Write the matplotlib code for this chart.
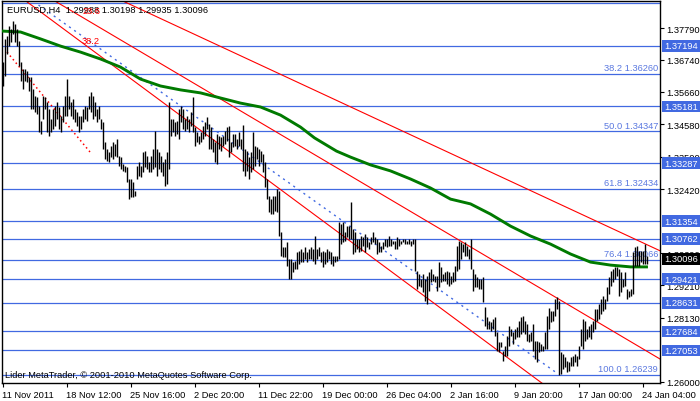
import matplotlib
matplotlib.use("Agg")
import matplotlib.pyplot as plt
from matplotlib.patches import Rectangle
from matplotlib.transforms import blended_transform_factory

# EURUSD H4 bars (high / low), one value per bar
bar_high = [
    1.3666, 1.3743, 1.3753, 1.3786, 1.3776, 1.3803, 1.3793, 1.3776, 1.3736, 1.3666,
    1.3643, 1.3643, 1.3636, 1.3616, 1.3616, 1.3576, 1.3553, 1.3549, 1.3519, 1.3469,
    1.3553, 1.3549, 1.3533, 1.3509, 1.3476, 1.3509, 1.3519, 1.3533, 1.3516, 1.3486,
    1.3519, 1.3553, 1.3609, 1.3553, 1.3533, 1.3543, 1.3509, 1.3499, 1.3486, 1.3486,
    1.3509, 1.3519, 1.3516, 1.3553, 1.3566, 1.3553, 1.3533, 1.3509, 1.3519, 1.3476,
    1.3466, 1.3399, 1.3376, 1.3366, 1.3386, 1.3399, 1.3393, 1.3409, 1.3353, 1.3349,
    1.3326, 1.3319, 1.3316, 1.3276, 1.3276, 1.3266, 1.3236, 1.3319, 1.3333, 1.3319,
    1.3366, 1.3369, 1.3353, 1.3333, 1.3353, 1.3376, 1.3436, 1.3376, 1.3366, 1.3353,
    1.3333, 1.3343, 1.3366, 1.3533, 1.3476, 1.3476, 1.3466, 1.3469, 1.3509, 1.3519,
    1.3509, 1.3476, 1.3486, 1.3476, 1.3499, 1.3549, 1.3449, 1.3433, 1.3419, 1.3433,
    1.3453, 1.3466, 1.3483, 1.3459, 1.3449, 1.3409, 1.3399, 1.3426, 1.3419, 1.3416,
    1.3419, 1.3436, 1.3449, 1.3453, 1.3399, 1.3426, 1.3426, 1.3409, 1.3433, 1.3409,
    1.3456, 1.3376, 1.3369, 1.3349, 1.3366, 1.3433, 1.3386, 1.3383, 1.3376, 1.3369,
    1.3359, 1.3333, 1.3276, 1.3219, 1.3209, 1.3219, 1.3219, 1.3243, 1.3236, 1.3099,
    1.3049, 1.3049, 1.3066, 1.3009, 1.3009, 1.2999, 1.3003, 1.3033, 1.3036, 1.3043,
    1.3033, 1.3049, 1.3033, 1.3043, 1.3049, 1.3043, 1.3086, 1.3043, 1.3049, 1.3033,
    1.3036, 1.3033, 1.3043, 1.3036, 1.3033, 1.3019, 1.3019, 1.3019, 1.3133, 1.3126,
    1.3133, 1.3099, 1.3119, 1.3119, 1.3199, 1.3109, 1.3099, 1.3076, 1.3076, 1.3086,
    1.3083, 1.3093, 1.3083, 1.3066, 1.3083, 1.3099, 1.3083, 1.3076, 1.3066, 1.3053,
    1.3066, 1.3076, 1.3076, 1.3086, 1.3076, 1.3069, 1.3069, 1.3083, 1.3076, 1.3069,
    1.3076, 1.3076, 1.3069, 1.3076, 1.3069, 1.3076, 1.3076, 1.2969, 1.2959, 1.2943,
    1.2959, 1.2943, 1.2953, 1.2966, 1.2976, 1.2959, 1.2953, 1.2953, 1.2999, 1.2983,
    1.2959, 1.2966, 1.2969, 1.2966, 1.2953, 1.2966, 1.2986, 1.3053, 1.3069, 1.3066,
    1.3059, 1.3066, 1.3053, 1.3043, 1.3076, 1.2976, 1.2959, 1.2949, 1.2943, 1.2943,
    1.2949, 1.2849, 1.2816, 1.2803, 1.2799, 1.2809, 1.2816, 1.2766, 1.2733, 1.2733,
    1.2703, 1.2719, 1.2753, 1.2786, 1.2776, 1.2766, 1.2776, 1.2783, 1.2803, 1.2816,
    1.2819, 1.2803, 1.2793, 1.2759, 1.2766, 1.2793, 1.2736, 1.2736, 1.2733, 1.2726,
    1.2719, 1.2766, 1.2819, 1.2846, 1.2836, 1.2836, 1.2876, 1.2883, 1.2869, 1.2699,
    1.2693, 1.2683, 1.2669, 1.2666, 1.2683, 1.2686, 1.2693, 1.2686, 1.2719, 1.2776,
    1.2809, 1.2803, 1.2776, 1.2786, 1.2793, 1.2803, 1.2843, 1.2843, 1.2859, 1.2876,
    1.2886, 1.2876, 1.2916, 1.2949, 1.2969, 1.2976, 1.2983, 1.2983, 1.2976, 1.2966,
    1.2943, 1.2966, 1.2909, 1.2903, 1.2909, 1.3033, 1.3049, 1.3053, 1.3036, 1.3036,
    1.3036, 1.3059, 1.3020,
]
bar_low = [
    1.3586, 1.3619, 1.3693, 1.3719, 1.3733, 1.3759, 1.3733, 1.3719, 1.3653, 1.3603,
    1.3576, 1.3603, 1.3599, 1.3569, 1.3509, 1.3509, 1.3499, 1.3493, 1.3433, 1.3426,
    1.3476, 1.3509, 1.3433, 1.3419, 1.3433, 1.3443, 1.3453, 1.3476, 1.3443, 1.3433,
    1.3466, 1.3486, 1.3486, 1.3509, 1.3486, 1.3476, 1.3466, 1.3453, 1.3433, 1.3443,
    1.3466, 1.3476, 1.3469, 1.3509, 1.3499, 1.3476, 1.3486, 1.3466, 1.3476, 1.3443,
    1.3376, 1.3343, 1.3336, 1.3333, 1.3349, 1.3343, 1.3353, 1.3349, 1.3319, 1.3309,
    1.3303, 1.3299, 1.3266, 1.3209, 1.3216, 1.3216, 1.3219, 1.3276, 1.3286, 1.3283,
    1.3299, 1.3316, 1.3309, 1.3299, 1.3299, 1.3309, 1.3316, 1.3286, 1.3309, 1.3299,
    1.3286, 1.3253, 1.3259, 1.3309, 1.3419, 1.3433, 1.3419, 1.3426, 1.3409, 1.3466,
    1.3443, 1.3436, 1.3443, 1.3433, 1.3453, 1.3433, 1.3386, 1.3399, 1.3393, 1.3399,
    1.3409, 1.3419, 1.3443, 1.3376, 1.3376, 1.3366, 1.3333, 1.3326, 1.3376, 1.3369,
    1.3386, 1.3393, 1.3403, 1.3349, 1.3366, 1.3383, 1.3386, 1.3376, 1.3386, 1.3376,
    1.3303, 1.3286, 1.3303, 1.3276, 1.3299, 1.3309, 1.3319, 1.3343, 1.3319, 1.3333,
    1.3299, 1.3249, 1.3209, 1.3166, 1.3159, 1.3159, 1.3169, 1.3166, 1.3086, 1.3019,
    1.3016, 1.3016, 1.2986, 1.2943, 1.2943, 1.2966, 1.2976, 1.2976, 1.2993, 1.2999,
    1.2999, 1.3009, 1.2999, 1.3009, 1.3009, 1.3003, 1.2993, 1.3009, 1.3019, 1.2999,
    1.2983, 1.2993, 1.2999, 1.3009, 1.2993, 1.2986, 1.2999, 1.3003, 1.3009, 1.3059,
    1.3066, 1.3069, 1.3083, 1.3076, 1.3076, 1.3026, 1.3033, 1.3043, 1.3033, 1.3036,
    1.3053, 1.3033, 1.3049, 1.3043, 1.3059, 1.3066, 1.3059, 1.3026, 1.3033, 1.3033,
    1.3043, 1.3053, 1.3049, 1.3053, 1.3053, 1.3059, 1.3043, 1.3043, 1.3053, 1.3059,
    1.3066, 1.3059, 1.3059, 1.3059, 1.3053, 1.3059, 1.2969, 1.2909, 1.2919, 1.2916,
    1.2899, 1.2869, 1.2859, 1.2903, 1.2933, 1.2936, 1.2933, 1.2903, 1.2916, 1.2933,
    1.2936, 1.2936, 1.2926, 1.2919, 1.2926, 1.2933, 1.2936, 1.2969, 1.2976, 1.3009,
    1.3033, 1.3019, 1.3019, 1.3009, 1.2976, 1.2903, 1.2916, 1.2916, 1.2909, 1.2909,
    1.2866, 1.2786, 1.2776, 1.2776, 1.2769, 1.2776, 1.2753, 1.2703, 1.2699, 1.2716,
    1.2669, 1.2686, 1.2686, 1.2719, 1.2753, 1.2726, 1.2743, 1.2749, 1.2749, 1.2759,
    1.2766, 1.2759, 1.2736, 1.2733, 1.2736, 1.2703, 1.2676, 1.2666, 1.2699, 1.2703,
    1.2703, 1.2709, 1.2709, 1.2776, 1.2799, 1.2803, 1.2819, 1.2843, 1.2624, 1.2626,
    1.2643, 1.2649, 1.2633, 1.2636, 1.2653, 1.2653, 1.2666, 1.2653, 1.2676, 1.2719,
    1.2709, 1.2736, 1.2743, 1.2749, 1.2743, 1.2766, 1.2776, 1.2803, 1.2809, 1.2826,
    1.2836, 1.2843, 1.2869, 1.2893, 1.2919, 1.2933, 1.2943, 1.2953, 1.2886, 1.2899,
    1.2916, 1.2919, 1.2876, 1.2883, 1.2886, 1.2893, 1.2986, 1.2986, 1.2986, 1.2999,
    1.2993, 1.2993, 1.2994,
]

# moving average, sampled along the green line
ma_bar = [0, 9, 19, 29, 39, 49, 59, 69, 79, 89, 99, 109, 119, 129, 139, 149, 156,
          167, 174, 184, 194, 204, 214, 224, 234, 244, 254, 264, 274, 284, 294, 304,
          314, 322]
ma_value = [1.3769, 1.3766, 1.3743, 1.3719, 1.3699, 1.3676, 1.3649, 1.3609, 1.3586,
            1.3573, 1.3563, 1.3546, 1.3529, 1.3516, 1.3489, 1.3449, 1.3413, 1.3369,
            1.3349, 1.3323, 1.3303, 1.3276, 1.3246, 1.3209, 1.3193, 1.3159, 1.3119,
            1.3086, 1.3059, 1.3026, 1.2999, 1.2989, 1.2983, 1.2983]

date_ticks = [0, 32, 64, 96, 128, 160, 192, 224, 256, 288, 320]
date_labels = ["11 Nov 2011", "18 Nov 12:00", "25 Nov 16:00", "2 Dec 20:00",
               "11 Dec 22:00", "19 Dec 00:00", "26 Dec 04:00", "2 Jan 16:00",
               "9 Jan 20:00", "17 Jan 00:00", "24 Jan 04:00"]

price_ticks = [1.37790, 1.36740, 1.35660, 1.34580, 1.33500, 1.32420, 1.30290,
               1.29210, 1.28130, 1.26000]

# horizontal lines (user levels), tagged on the price scale
level_prices = [1.37194, 1.35181, 1.33287, 1.31354, 1.30762, 1.29421, 1.28631,
                1.27684, 1.27053]
# fibonacci retracement levels (23.6 label sits above the chart, not shown)
fib_names = ["23.6", "38.2", "50.0", "61.8", "76.4", "100.0"]
fib_prices = [1.38628, 1.36260, 1.34347, 1.32434, 1.30066, 1.26239]
last_price = 1.30096

# trend lines: (bar, price) end points
trend_lines = [
    ((58, 1.3876), (329, 1.3036)),
    ((26.25, 1.3869), (328.75, 1.2676)),
    ((11.75, 1.3869), (270.25, 1.2593)),
]
fib_diag = ((18, 1.3856), (277, 1.2630))
fan_line = ((2.25, 1.3699), (43.75, 1.3366))

BLUE = "#4169E1"
W, H = 700, 402
plt.rcParams["font.family"] = ["Liberation Sans", "DejaVu Sans"]
FS = 6.7

fig = plt.figure(figsize=(W / 100, H / 100), dpi=100)
ax = fig.add_axes([2 / W, 18 / H, 658 / W, 382 / H])
ax.set_xlim(-0.25, 328.75)
ax.set_ylim(1.2596, 1.38693)

for p in level_prices + fib_prices:
    ax.axhline(p, color=BLUE, lw=0.9, zorder=1)

for (x0, y0), (x1, y1) in trend_lines:
    ax.plot([x0, x1], [y0, y1], color="red", lw=0.8, zorder=2)
ax.plot([fan_line[0][0], fan_line[1][0]], [fan_line[0][1], fan_line[1][1]],
        color="red", lw=1.1, ls=(0, (1, 2)), zorder=2)
ax.plot([fib_diag[0][0], fib_diag[1][0]], [fib_diag[0][1], fib_diag[1][1]],
        color=BLUE, lw=1.0, ls=(0, (1.5, 3)), zorder=2)

ax.plot(ma_bar, ma_value, color="#007A00", lw=2.1, zorder=3)

idx = list(range(len(bar_high)))
ax.vlines(idx, bar_low, bar_high, colors="black", lw=1.0, zorder=4)

# fib labels above their lines
tr = blended_transform_factory(ax.transAxes, ax.transData)
for name, p in zip(fib_names[1:], fib_prices[1:]):
    ax.text(0.997, p + 0.0006, "%s %.5f" % (name, p), transform=tr, ha="right",
            va="bottom", fontsize=FS, color="#5A78E0", zorder=3)

# axes, ticks
for s in ax.spines.values():
    s.set_color("black")
    s.set_linewidth(1.0)
ax.yaxis.tick_right()
ax.set_yticks(price_ticks)
ax.set_yticklabels(["%.5f" % p for p in price_ticks])
ax.set_xticks(date_ticks)
ax.set_xticklabels(date_labels)
ax.tick_params(axis="both", length=3, width=0.8, labelsize=FS, colors="black")
ax.tick_params(axis="y", pad=1.5)
ax.tick_params(axis="x", pad=2)
for lab in ax.get_xticklabels():
    lab.set_horizontalalignment("left")

# price tags on the right
for p in level_prices + [last_price]:
    fc = "black" if p == last_price else BLUE
    ax.add_patch(Rectangle((1.003, p - 0.0019), 0.06, 0.0038, transform=tr,
                           facecolor=fc, edgecolor="none", clip_on=False, zorder=6))
    ax.text(1.0065, p, "%.5f" % p, transform=tr, ha="left", va="center",
            fontsize=FS, color="white", zorder=7, clip_on=False)

fig.text(7 / W, 1 - 10 / H, "EURUSD,H4  1.29988 1.30198 1.29935 1.30096",
         fontsize=FS, va="center", ha="left", color="black")
fig.text(83 / W, 1 - 11 / H, "23.6", fontsize=FS, va="center", ha="left", color="red")
fig.text(82 / W, 1 - 42 / H, "38.2", fontsize=FS, va="center", ha="left", color="red")
fig.text(5 / W, 1 - 376 / H, "Lider MetaTrader, \u00a9 2001-2010 MetaQuotes Software Corp.",
         fontsize=FS, va="center", ha="left", color="black")

fig.savefig("out.png", dpi=100, facecolor="white")
